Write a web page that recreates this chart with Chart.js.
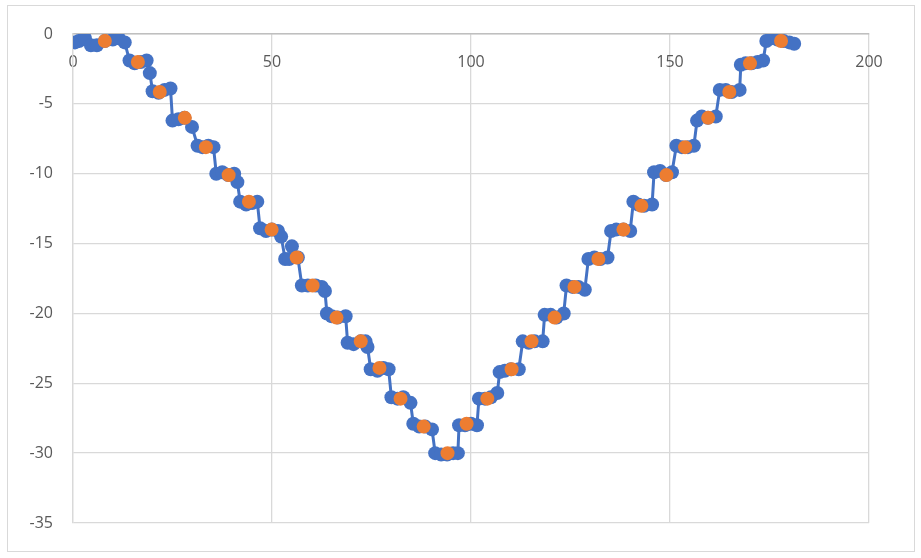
<!DOCTYPE html>
<html>
<head>
<meta charset="utf-8">
<script src="https://cdn.jsdelivr.net/npm/chart.js@4/dist/chart.umd.min.js"></script>
<style>
  html, body { margin: 0; padding: 0; background: #fff; }
  #wrap { position: relative; width: 921px; height: 558px; }
  #frame { position: absolute; left: 7px; top: 5px; width: 906px; height: 545px; border: 1px solid #d9d9d9; pointer-events: none; }
  canvas { position: absolute; left: 0; top: 0; }
</style>
</head>
<body>
<div id="wrap">
  <canvas id="c" width="921" height="558"></canvas>
  <div id="frame"></div>
</div>
<script>
// Blue series (measured staircase)
const blueX = [
  0.5, 1.5, 3, 4.5, 6, 8, 10, 11.5, 13,
  14.2, 15.5, 17, 18.5, 19.3,
  20, 21.5, 23, 24.5,
  25, 26.5, 28, 29.9,
  31.3, 32.5, 34, 35.3,
  36, 37.5, 39, 40.5, 41.3,
  42, 43.5, 45, 46.3,
  47, 48.5, 50, 51.5, 52.3,
  53.3, 54.3, 55, 56.5,
  57.5, 59, 61, 62.5, 63.3,
  63.8, 65, 66.5, 68.5,
  69, 70.5, 72.3, 73.5, 74,
  74.8, 76.5, 78, 79.3,
  80, 81.5, 83, 84.8,
  85.5, 87, 88.5, 90.2,
  91, 92.5, 94, 95.5, 96.7,
  97, 98.5, 100, 101.5,
  102, 103.5, 105, 106.6,
  107.2, 108.5, 110, 112,
  113, 114.5, 116, 118,
  118.5, 120, 121.5, 123.3,
  124, 125.5, 127, 128.6,
  129.5, 131, 132.5, 134.3,
  135.2, 136.5, 138.3, 140,
  140.8, 142, 143.5, 145.5,
  146, 147.5, 149, 150.5,
  151.6, 153, 154.5, 156,
  156.8, 158, 159.5, 161.5,
  162.5, 164, 165.5, 167.5,
  167.8, 169, 170.5, 172, 173.4,
  174.2, 175.5, 177, 178.5, 180, 181.2
];
const blueY = [
  -0.6, -0.5, -0.3, -0.8, -0.8, -0.5, -0.4, -0.3, -0.6,
  -1.9, -2.1, -2.0, -1.9, -2.8,
  -4.1, -4.2, -4.0, -3.9,
  -6.2, -6.1, -6.0, -6.65,
  -8.0, -8.1, -8.0, -8.1,
  -10.0, -9.9, -10.1, -10.0, -10.6,
  -12.0, -12.2, -12.1, -12.0,
  -13.9, -14.1, -14.0, -14.1, -14.5,
  -16.1, -16.1, -15.2, -16.0,
  -18.0, -18.0, -18.0, -18.1, -18.4,
  -20.0, -20.2, -20.3, -20.2,
  -22.1, -22.2, -22.0, -22.0, -22.4,
  -24.0, -24.1, -23.9, -24.0,
  -26.0, -26.1, -26.0, -26.4,
  -27.9, -28.1, -28.1, -28.3,
  -30.0, -30.1, -30.1, -30.0, -30.0,
  -28.0, -28.0, -27.9, -28.0,
  -26.1, -26.1, -26.0, -25.7,
  -24.2, -24.1, -24.0, -24.0,
  -22.0, -22.1, -22.0, -22.0,
  -20.1, -20.1, -20.3, -20.0,
  -18.0, -18.1, -18.1, -18.3,
  -16.1, -16.0, -16.1, -16.0,
  -14.1, -14.0, -14.0, -14.1,
  -12.0, -12.2, -12.3, -12.2,
  -9.9, -9.8, -10.1, -9.9,
  -8.0, -8.1, -8.1, -8.0,
  -6.2, -5.9, -6.0, -5.9,
  -4.0, -4.0, -4.15, -4.0,
  -2.2, -2.1, -2.1, -2.0, -1.9,
  -0.5, -0.3, -0.4, -0.5, -0.6, -0.7
];
// Orange series (step centres)
const orangeX = [8, 16.3, 21.8, 28.1, 33.4, 39.1, 44.2, 49.9, 56.2, 60.2, 66.2, 72.3, 77.0, 82.3, 88.1, 94.1,
  98.9, 104.1, 110.2, 115.2, 121.0, 126.0, 132.0, 138.3, 142.8, 149.1, 153.8, 159.6, 164.9, 170.1, 177.9];
const orangeY = [-0.5, -2.0, -4.15, -6.0, -8.1, -10.1, -12.0, -14.0, -16.0, -18.0, -20.3, -22.0, -23.9, -26.1, -28.1, -30.0,
  -27.9, -26.1, -24.0, -22.0, -20.3, -18.1, -16.1, -14.0, -12.3, -10.1, -8.1, -6.0, -4.15, -2.1, -0.5];
// Axis ranges / ticks
const xTicks = [0, 50, 100, 150, 200];
const yTicks = [0, -5, -10, -15, -20, -25, -30, -35];

const bluePts = blueX.map((x, i) => ({x: x, y: blueY[i]}));
const orangePts = orangeX.map((x, i) => ({x: x, y: orangeY[i]}));

const FONT = "'Open Sans', 'Liberation Sans', sans-serif";

new Chart(document.getElementById('c'), {
  type: 'scatter',
  data: {
    datasets: [
      {
        label: 'Series1',
        data: bluePts,
        showLine: true,
        borderColor: '#4472C4',
        backgroundColor: '#4472C4',
        borderWidth: 3,
        pointRadius: 7,
        pointBorderWidth: 0,
        pointHoverRadius: 7,
        order: 2
      },
      {
        label: 'Series2',
        data: orangePts,
        showLine: false,
        borderColor: '#ED7D31',
        backgroundColor: '#ED7D31',
        pointRadius: 7,
        pointBorderWidth: 0,
        order: 1
      }
    ]
  },
  options: {
    responsive: false,
    animation: false,
    layout: { padding: { left: 0, top: 34, right: 52, bottom: 35 } },
    plugins: { legend: { display: false }, tooltip: { enabled: false } },
    scales: {
      x: {
        type: 'linear',
        position: { y: 0 },
        min: 0, max: 200,
        afterBuildTicks: (s) => { s.ticks = xTicks.map(v => ({value: v})); },
        grid: { color: '#d9d9d9', lineWidth: 1.3, drawTicks: false },
        border: { color: '#bfbfbf', width: 1.5 },
        ticks: { color: '#595959', font: { family: FONT, size: 16 }, padding: 19, maxRotation: 0 }
      },
      y: {
        type: 'linear',
        position: 'left',
        min: -35, max: 0,
        afterBuildTicks: (s) => { s.ticks = yTicks.map(v => ({value: v})); },
        afterFit: (s) => { s.width = 73; },
        grid: { color: '#d9d9d9', lineWidth: 1.3, drawTicks: false },
        border: { color: '#d9d9d9', width: 1.3 },
        ticks: { color: '#595959', font: { family: FONT, size: 16 }, padding: 20 }
      }
    }
  }
});
</script>
</body>
</html>
